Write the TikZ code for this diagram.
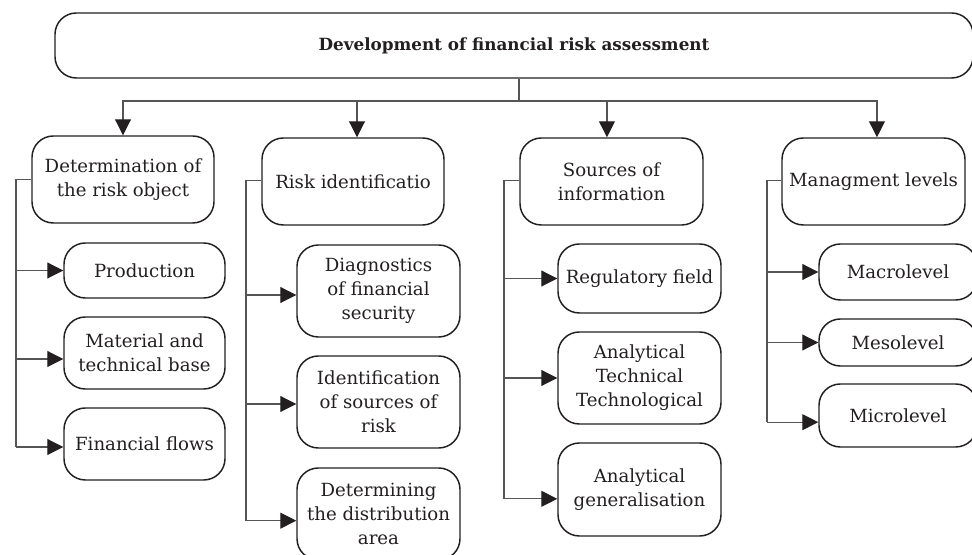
\documentclass[tikz,border=0pt]{standalone}
\usepackage{fontspec}
\setmainfont{DejaVu Serif}
\usetikzlibrary{arrows.meta}
\definecolor{ink}{HTML}{231F20}
\definecolor{lgray}{HTML}{555555}
\begin{document}
\begin{tikzpicture}[x=0.75pt,y=-0.75pt,
  box/.style={draw=ink, line width=1.1pt, rounded corners=16pt, align=center,
    inner xsep=1pt, inner ysep=0pt, text=ink, font=\fontsize{13.6}{18}\selectfont},
  wh/.style 2 args={minimum width=#1*0.75pt, minimum height=#2*0.75pt},
  conn/.style={draw=lgray, line width=0.8pt},
  arr/.style={conn, -{Triangle[length=12pt,width=12pt,color=ink]}}]
\useasboundingbox (0,0) rectangle (972,555);
\clip (0,0) rectangle (972,555);
% top
\node[box, wh={918}{65}, font=\fontsize{12.6}{15}\selectfont\bfseries] (top) at (514,45.5) {Development of financial risk assessment};
% level 1
\node[box, wh={182}{87}] (A) at (123,179.5) {Determination of\\the risk object};
\node[box, wh={182}{87}] (B) at (353,181.5) {Risk identificatio};
\node[box, wh={183}{87}] (C) at (611.5,181.5) {Sources of\\information};
\node[box, wh={183}{87}] (D) at (873.5,181.5) {Managment levels};
% children A
\node[box, wh={161}{55}] (prod) at (144.5,270.5) {Production};
\node[box, wh={161}{72}] (mat) at (144.5,353) {Material and\\technical base};
\node[box, wh={161}{72}] (fin) at (144.5,444) {Financial flows};
% children B
\node[box, wh={163}{92}] (diag) at (378.5,291) {Diagnostics\\of financial\\security};
\node[box, wh={163}{92}] (ident) at (378.5,402) {Identification\\of sources of\\risk};
\node[box, wh={163}{92}] (determ) at (378.5,514) {Determining\\the distribution\\area};
% children C
\node[box, wh={163}{69}] (reg) at (639.5,278.5) {Regulatory field};
\node[box, wh={163}{92}] (anat) at (639.5,378) {Analytical\\Technical\\Technological};
\node[box, wh={163}{93}] (angen) at (639.5,489.5) {Analytical\\generalisation};
% children D
\node[box, wh={158}{56}] (macro) at (898,272) {Macrolevel};
\node[box, wh={158}{47}] (meso) at (898,342.5) {Mesolevel};
\node[box, wh={158}{63}] (micro) at (898,415.5) {Microlevel};
% top connectors
\coordinate (j) at (519,101);
\draw[conn] (top.south -| j) -- (j);
\draw[arr] (j) -| (A.north);
\draw[arr] (j) -| ([xshift=3pt]B.north);
\draw[arr] (j) -| ([xshift=-3.4pt]C.north);
\draw[arr] (j) -| ([xshift=2.6pt]D.north);
% spines
\coordinate (sa) at (16,0);
\coordinate (sb) at (246,0);
\coordinate (sc) at (504,0);
\coordinate (sd) at (767,0);
% A
\coordinate (tmat) at ([yshift=-4.5pt]mat.west);
\coordinate (tfin) at ([yshift=-2.25pt]fin.west);
\draw[conn] (A.west) -| (sa |- tfin);
\draw[arr] (sa |- prod.west) -- (prod.west);
\draw[arr] (sa |- tmat) -- (tmat);
\draw[arr] (sa |- tfin) -- (tfin);
% B
\coordinate (tdiag) at ([yshift=-3pt]diag.west);
\coordinate (tident) at ([yshift=-1.5pt]ident.west);
\coordinate (tdet) at ([yshift=-5pt]determ.west);
\draw[conn] ([yshift=1pt]B.west) -| (sb |- tdet);
\draw[arr] (sb |- tdiag) -- (tdiag);
\draw[arr] (sb |- tident) -- (tident);
\draw[arr] (sb |- tdet) -- (tdet);
% C
\coordinate (tgen) at ([yshift=-7pt]angen.west);
\draw[conn] ([yshift=1pt]C.west) -| (sc |- tgen);
\draw[arr] (sc |- reg.west) -- (reg.west);
\draw[arr] (sc |- anat.west) -- (anat.west);
\draw[arr] (sc |- tgen) -- (tgen);
% D
\coordinate (tmic) at ([yshift=-5pt]micro.west);
\draw[conn] ([yshift=1pt]D.west) -| (sd |- tmic);
\draw[arr] (sd |- macro.west) -- (macro.west);
\draw[arr] (sd |- meso.west) -- (meso.west);
\draw[arr] (sd |- tmic) -- (tmic);
\end{tikzpicture}
\end{document}
